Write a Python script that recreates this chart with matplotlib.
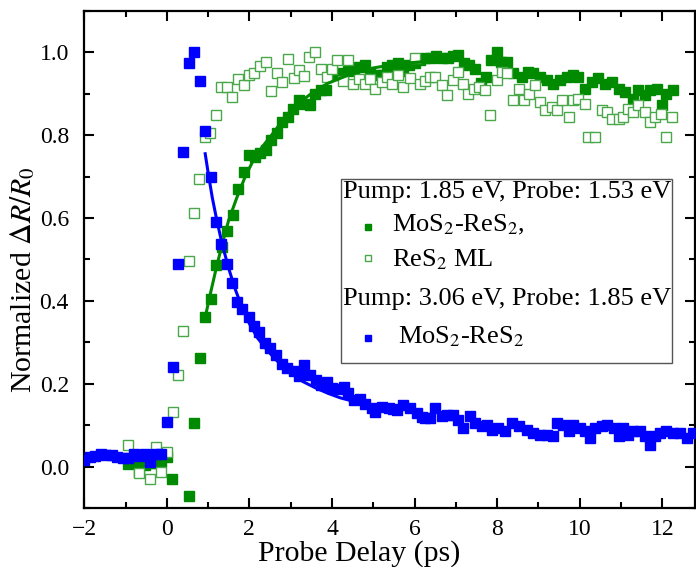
import matplotlib
matplotlib.use("Agg")
import matplotlib.pyplot as plt
from matplotlib.patches import Rectangle
from matplotlib.ticker import MultipleLocator

plt.rcParams['font.family'] = ['Liberation Serif', 'DejaVu Serif']
plt.rcParams['mathtext.fontset'] = 'stix'

# Pump 3.06 eV / Probe 1.85 eV, MoS2-ReS2 (blue)
blue_x = [-2.0, -1.87, -1.73, -1.6, -1.47, -1.33, -1.2, -1.07, -0.93, -0.8, -0.67, -0.53, -0.4, -0.27, -0.13,
          0.0, 0.14, 0.26, 0.40, 0.53, 0.66, 0.80, 0.93, 1.07, 1.19, 1.32, 1.45, 1.58, 1.71, 1.83, 1.98,
          2.1, 2.24, 2.38, 2.5, 2.65, 2.79, 2.91, 3.07, 3.19, 3.33, 3.47, 3.62, 3.74, 3.88, 4.0, 4.14,
          4.28, 4.4, 4.53, 4.67, 4.8, 4.97, 5.05, 5.21, 5.37, 5.47, 5.57, 5.73, 5.89, 6.05, 6.17, 6.26,
          6.38, 6.5, 6.66, 6.78, 6.94, 7.06, 7.18, 7.35, 7.47, 7.63, 7.75, 7.87, 8.03, 8.19, 8.36, 8.52,
          8.72, 8.88, 9.04, 9.2, 9.36, 9.44, 9.6, 9.73, 9.85, 10.0, 10.13, 10.25, 10.37, 10.53, 10.66,
          10.82, 10.94, 11.06, 11.18, 11.3, 11.46, 11.59, 11.7, 11.83, 11.95, 12.1, 12.27, 12.43, 12.59, 12.75]
blue_y = [0.015, 0.022, 0.025, 0.03, 0.027, 0.027, 0.022, 0.02, 0.02, 0.03, 0.025, 0.03, 0.012, 0.03, 0.03,
          0.108, 0.24, 0.49, 0.76, 0.974, 1.0, 0.93, 0.81, 0.70, 0.59, 0.537, 0.49, 0.444, 0.398, 0.38, 0.36,
          0.34, 0.326, 0.298, 0.286, 0.27, 0.248, 0.238, 0.23, 0.218, 0.244, 0.222, 0.208, 0.196, 0.203, 0.19, 0.188,
          0.192, 0.178, 0.16, 0.164, 0.152, 0.141, 0.131, 0.145, 0.141, 0.14, 0.137, 0.149, 0.141, 0.129, 0.12, 0.117,
          0.117, 0.141, 0.121, 0.125, 0.125, 0.113, 0.093, 0.121, 0.105, 0.097, 0.1, 0.089, 0.094, 0.085, 0.105, 0.099,
          0.089, 0.081, 0.077, 0.077, 0.075, 0.104, 0.101, 0.085, 0.101, 0.093, 0.085, 0.069, 0.093, 0.097, 0.101,
          0.093, 0.073, 0.093, 0.077, 0.085, 0.085, 0.073, 0.053, 0.073, 0.081, 0.085, 0.081, 0.081, 0.069, 0.081]

# Pump 1.85 eV / Probe 1.53 eV, MoS2-ReS2 (filled green)
green_x = [-0.93, -0.8, -0.67, -0.53, -0.4, -0.27, -0.13, 0.0, 0.13, 0.53, 0.66, 0.8, 0.93, 1.07, 1.2, 1.33,
           1.46, 1.6, 1.73, 1.86, 2.0, 2.13, 2.26, 2.4, 2.53, 2.66, 2.8, 2.93, 3.06, 3.2, 3.33, 3.46, 3.6, 3.73,
           3.86, 4.0, 4.13, 4.26, 4.4, 4.53, 4.66, 4.8, 4.93, 5.06, 5.2, 5.33, 5.46, 5.6, 5.73, 5.86, 6.0, 6.13,
           6.26, 6.4, 6.53, 6.66, 6.8, 6.93, 7.06, 7.2, 7.33, 7.46, 7.6, 7.73, 7.86, 8.0, 8.1, 8.23, 8.39, 8.6,
           8.76, 8.88, 9.04, 9.2, 9.36, 9.53, 9.69, 9.85, 9.97, 10.13, 10.29, 10.45, 10.61, 10.78, 10.94, 11.1,
           11.3, 11.42, 11.58, 11.7, 11.87, 11.99, 12.1, 12.27]
green_y = [0.006, 0.012, -0.012, 0.005, 0.008, 0.008, 0.012, 0.022, -0.03, -0.072, 0.105, 0.262, 0.36, 0.404, 0.487, 0.53,
           0.569, 0.607, 0.669, 0.71, 0.752, 0.748, 0.756, 0.764, 0.788, 0.804, 0.832, 0.844, 0.864, 0.884, 0.876, 0.872, 0.9, 0.908,
           0.91, 0.955, 0.945, 0.95, 0.955, 0.96, 0.965, 0.97, 0.95, 0.945, 0.945, 0.965, 0.97, 0.975, 0.955, 0.97, 0.975, 0.98,
           0.985, 0.985, 0.99, 0.985, 0.985, 0.99, 0.993, 0.973, 0.97, 0.96, 0.925, 0.94, 0.98, 1.0, 0.977, 0.977, 0.949, 0.94,
           0.953, 0.949, 0.94, 0.932, 0.924, 0.932, 0.94, 0.945, 0.94, 0.912, 0.928, 0.937, 0.924, 0.928, 0.912, 0.904,
           0.888, 0.908, 0.896, 0.908, 0.912, 0.872, 0.90, 0.908]

# ReS2 ML (open green)
open_x = [-0.93, -0.67, -0.4, -0.27, -0.14, 0.0, 0.14, 0.27, 0.39, 0.53, 0.66, 0.79, 0.93, 1.05, 1.18, 1.32,
          1.45, 1.59, 1.72, 1.86, 2.0, 2.12, 2.26, 2.4, 2.53, 2.67, 2.79, 2.93, 3.07, 3.19, 3.33, 3.45, 3.59, 3.74,
          3.88, 4.0, 4.12, 4.26, 4.4, 4.52, 4.66, 4.8, 4.93, 5.05, 5.21, 5.33, 5.45, 5.61, 5.73, 5.89, 6.01, 6.14,
          6.26, 6.38, 6.5, 6.66, 6.78, 6.94, 7.06, 7.18, 7.3, 7.43, 7.55, 7.71, 7.83, 7.99, 8.11, 8.25, 8.39, 8.52,
          8.64, 8.78, 8.92, 9.04, 9.16, 9.32, 9.44, 9.57, 9.73, 9.85, 9.97, 10.13, 10.21, 10.37, 10.53, 10.66,
          10.78, 10.94, 11.06, 11.18, 11.3, 11.42, 11.58, 11.7, 11.83, 11.97, 12.1, 12.23]
open_y = [0.052, -0.015, -0.03, 0.048, -0.014, 0.036, 0.131, 0.22, 0.328, 0.495, 0.613, 0.693, 0.796, 0.806, 0.849, 0.915,
          0.915, 0.892, 0.935, 0.92, 0.945, 0.95, 0.966, 0.977, 0.907, 0.95, 0.928, 0.983, 0.937, 0.958, 0.942, 0.989, 1.0, 0.96,
          0.94, 0.96, 0.98, 0.93, 0.98, 0.924, 0.935, 0.924, 0.935, 0.912, 0.928, 0.94, 0.924, 0.945, 0.916, 0.937, 0.985, 0.924,
          0.93, 0.94, 0.94, 0.92, 0.896, 0.933, 0.953, 0.924, 0.90, 0.912, 0.916, 0.908, 0.848, 0.933, 0.953, 0.95, 0.884, 0.912,
          0.884, 0.9, 0.92, 0.88, 0.86, 0.868, 0.86, 0.884, 0.844, 0.884, 0.888, 0.876, 0.796, 0.796, 0.86, 0.856,
          0.84, 0.84, 0.844, 0.864, 0.856, 0.872, 0.856, 0.832, 0.844, 0.85, 0.796, 0.843]

# fit curves
blue_fit_x = [0.93, 1.0, 1.1, 1.2, 1.3, 1.4, 1.5, 1.65, 1.8, 2.0, 2.2, 2.4, 2.6, 2.8, 3.0, 3.3, 3.6, 3.9, 4.2, 4.5]
blue_fit_y = [0.755, 0.71, 0.65, 0.60, 0.555, 0.515, 0.478, 0.43, 0.39, 0.345, 0.31, 0.285, 0.262, 0.243, 0.226,
              0.205, 0.19, 0.177, 0.166, 0.158]
green_fit_x = [0.93, 1.05, 1.2, 1.35, 1.5, 1.7, 1.9, 2.1, 2.3, 2.6, 2.9, 3.2, 3.5, 3.9, 4.4, 5.0, 5.6, 6.3, 7.0]
green_fit_y = [0.36, 0.415, 0.48, 0.54, 0.595, 0.65, 0.70, 0.74, 0.77, 0.808, 0.848, 0.878, 0.9, 0.925, 0.945,
               0.962, 0.972, 0.978, 0.982]

blue = '#0000ff'
green = '#008a00'

fig = plt.figure(figsize=(6.96, 5.67), dpi=100)
ax = fig.add_axes([0.121, 0.104, 0.878, 0.877])

ax.plot(green_x, green_y, 's', color=green, ms=6.5, mec=green, zorder=2)
ax.plot(open_x, open_y, 's', mfc='white', mec='#4aa84a', mew=1.0, ms=6.5, zorder=3)
ax.plot(green_fit_x, green_fit_y, '-', color=green, lw=2.2, zorder=4)
ax.plot(blue_x, blue_y, 's', color=blue, ms=6.5, zorder=5)
ax.plot(blue_fit_x, blue_fit_y, '-', color=blue, lw=2.2, zorder=6)

ax.set_xlim(-2, 12.8)
ax.set_ylim(-0.1, 1.1)
ax.xaxis.set_major_locator(MultipleLocator(2))
ax.xaxis.set_minor_locator(MultipleLocator(1))
ax.yaxis.set_major_locator(MultipleLocator(0.2))
ax.yaxis.set_minor_locator(MultipleLocator(0.1))
ax.yaxis.set_major_formatter(matplotlib.ticker.FormatStrFormatter('%.1f'))
ax.tick_params(which='both', direction='in', top=True, right=True, width=1.5, labelsize=17, pad=8)
ax.tick_params(axis='y', which='major', pad=11)
ax.tick_params(which='major', length=7)
ax.tick_params(which='minor', length=4)
for s in ax.spines.values():
    s.set_linewidth(1.6)

ax.set_xlabel('Probe Delay (ps)', fontsize=21.5, labelpad=0)
ax.set_ylabel(r'Normalized $\Delta R/R_0$', fontsize=21.5, labelpad=2)
ax.xaxis.label.set_x(0.45)
ax.yaxis.label.set_y(0.46)

# legend box drawn by hand (two headers, three entries)
ax.add_patch(Rectangle((0.42, 0.292), 0.542, 0.369, transform=ax.transAxes,
                       fill=True, fc='white', ec='#555555', lw=1.0, zorder=10))
fs = 19
ax.text(0.424, 0.624, 'Pump: 1.85 eV, Probe: 1.53 eV', transform=ax.transAxes, fontsize=fs, va='baseline', zorder=11)
ax.plot([0.465], [0.566], 's', color=green, ms=4.5, transform=ax.transAxes, zorder=11, clip_on=False)
ax.text(0.504, 0.556, r'MoS$_2$-ReS$_2$,', transform=ax.transAxes, fontsize=fs, va='baseline', zorder=11)
ax.plot([0.465], [0.502], 's', mfc='white', mec='#4aa84a', mew=1.0, ms=4.5, transform=ax.transAxes, zorder=11,
        clip_on=False)
ax.text(0.504, 0.486, r'ReS$_2$ ML', transform=ax.transAxes, fontsize=fs, va='baseline', zorder=11)
ax.text(0.424, 0.408, 'Pump: 3.06 eV, Probe: 1.85 eV', transform=ax.transAxes, fontsize=fs, va='baseline', zorder=11)
ax.plot([0.465], [0.341], 's', color=blue, ms=4.5, transform=ax.transAxes, zorder=11, clip_on=False)
ax.text(0.514, 0.331, r'MoS$_2$-ReS$_2$', transform=ax.transAxes, fontsize=fs, va='baseline', zorder=11)

fig.savefig('out.png', dpi=100)
